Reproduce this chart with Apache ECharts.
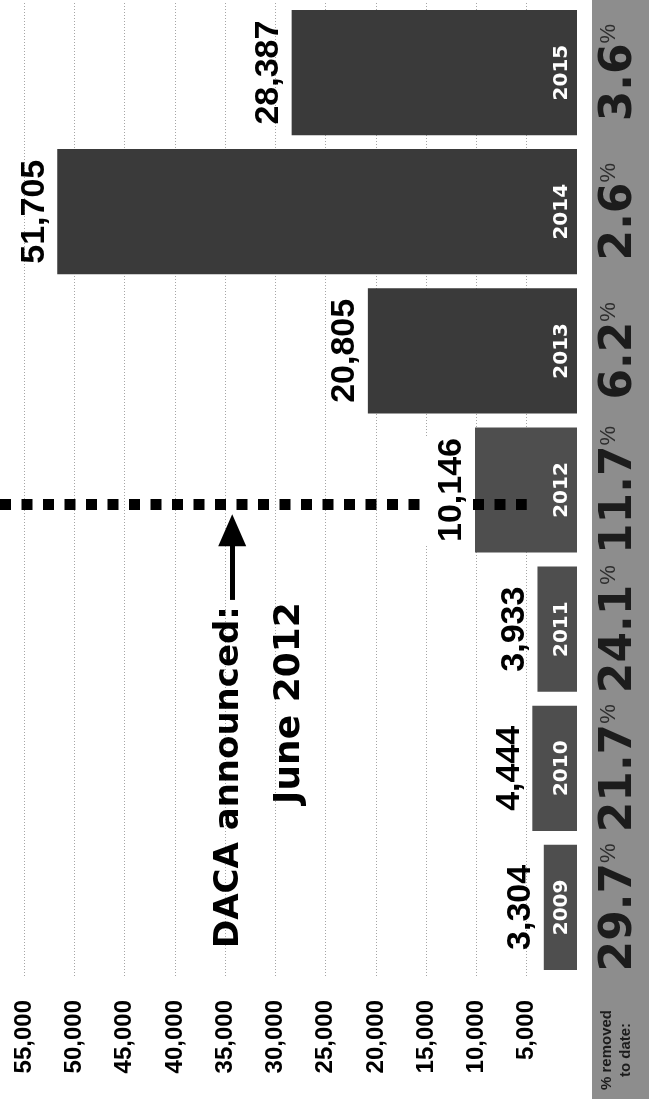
<!DOCTYPE html>
<html>
<head>
<meta charset="utf-8">
<script src="https://cdn.jsdelivr.net/npm/echarts@6/dist/echarts.min.js"></script>
<style>
  html, body { margin: 0; padding: 0; background: #fff; }
  #chart { width: 649px; height: 1099px; }
</style>
</head>
<body>
<div id="chart"></div>
<script>
// removals per year (chart is printed turned on its side)
var years = ['2009', '2010', '2011', '2012', '2013', '2014', '2015'];
var removals = [3304, 4444, 3933, 10146, 20805, 51705, 28387];
var pctRemoved = ['29.7', '21.7', '24.1', '11.7', '6.2', '2.6', '3.6'];

// DACA announcement, June 2012, in year-index units on a hidden linear axis
var dacaYear = '2012';
var dacaPos = 2.9;
var dacaLineValues = [57400, 5000];
// arrow pointing at the line
var arrowValue = 34300;
var arrowFrom = 2.21;
var arrowTo = 2.71;

var BOLD = '"Liberation Sans", Arial, sans-serif';
var HEAVY = '"DejaVu Sans", sans-serif';

var chart = echarts.init(document.getElementById('chart'));

// value labels sit on their own transparent bars so they can cover the dotted line
var valueLabelData = removals.map(function (v, i) {
  if (years[i] === dacaYear) {
    return { value: v, label: { backgroundColor: '#fff', padding: [12, 2, 0, 2] } };
  }
  return v;
});

chart.setOption({
  animation: false,
  backgroundColor: '#fff',
  grid: { left: 0, right: 72, top: 3, bottom: 122 },
  xAxis: {
    type: 'value',
    inverse: true,
    min: 0,
    max: 57400,   // page edge, past the last printed tick
    interval: 5000,
    axisLine: { show: false },
    axisTick: { show: false },
    splitLine: {
      show: true,
      showMinLine: false,
      showMaxLine: false,
      lineStyle: { color: '#a5a5a5', type: [1, 2], width: 1 }
    },
    axisLabel: {
      rotate: 90,
      margin: 23,
      showMinLabel: false,
      showMaxLabel: false,
      color: '#000',
      fontFamily: BOLD,
      fontWeight: 'bold',
      fontSize: 24,
      formatter: function (v) { return (v === 0 || v > 55000) ? '' : v.toLocaleString('en-US'); }
    }
  },
  yAxis: [
    {
      type: 'category',
      data: years,
      position: 'right',
      axisLine: { show: false },
      axisTick: { show: false },
      splitLine: { show: false },
      axisLabel: {
        rotate: 90,
        margin: 43,
        align: 'center',
        verticalAlign: 'middle',
        formatter: function (v, i) { return '{n|' + pctRemoved[i] + '}{p|%}'; },
        rich: {
          n: { fontFamily: HEAVY, fontWeight: 'bold', fontSize: 44, color: '#1c1c1c' },
          p: { fontFamily: BOLD, fontWeight: 'normal', fontSize: 22, color: '#2e2e2e', verticalAlign: 'top' }
        }
      }
    },
    {
      // same band layout as the year axis, but linear so annotations can sit between years
      type: 'value',
      show: false,
      min: -0.5,
      max: years.length - 0.5,
      splitLine: { show: false }
    }
  ],
  graphic: [
    {
      type: 'rect', left: 592, top: 0, z: -10,
      shape: { width: 57, height: 1099 },
      style: { fill: '#8d8d8d' }
    },
    {
      type: 'text', x: 616, y: 1050, rotation: Math.PI / 2, z: 100,
      style: {
        text: '% removed\nto date:', align: 'center', verticalAlign: 'middle',
        font: 'bold 15px "Liberation Sans", Arial, sans-serif', lineHeight: 19, fill: '#1c1c1c'
      }
    },
    {
      type: 'text', x: 229, y: 777, rotation: Math.PI / 2, z: 100,
      style: {
        text: 'DACA announced:', align: 'center', verticalAlign: 'middle',
        font: 'bold 34px "DejaVu Sans", sans-serif', fill: '#000'
      }
    },
    {
      type: 'text', x: 290, y: 703, rotation: Math.PI / 2, z: 100,
      style: {
        text: 'June 2012', align: 'center', verticalAlign: 'middle',
        font: 'bold 36px "DejaVu Sans", sans-serif', fill: '#000'
      }
    }
  ],
  series: [
    {
      type: 'bar',
      data: removals,
      barWidth: '90%',
      barGap: '-100%',
      z: 2,
      itemStyle: {
        color: function (p) { return p.dataIndex >= 4 ? '#3a3a3a' : '#4e4e4e'; }
      },
      label: {
        show: true,
        position: 'insideRight',
        distance: 5,
        rotate: 90,
        align: 'center',
        verticalAlign: 'bottom',
        color: '#fff',
        fontFamily: HEAVY,
        fontWeight: 'bold',
        fontSize: 20,
        formatter: function (p) { return years[p.dataIndex]; }
      }
    },
    {
      // carries the DACA annotation on the linear year axis
      type: 'scatter',
      yAxisIndex: 1,
      data: [],
      z: 3,
      markLine: {
        z: 3,
        silent: true,
        animation: false,
        label: { show: false },
        data: [
          [
            { coord: [dacaLineValues[0], dacaPos], symbol: 'none',
              lineStyle: { color: '#000', width: 11, type: [11, 10.5], cap: 'butt' } },
            { coord: [dacaLineValues[1], dacaPos], symbol: 'none' }
          ],
          [
            { coord: [arrowValue, arrowFrom], symbol: 'none',
              lineStyle: { color: '#000', width: 5, type: 'solid' } },
            { coord: [arrowValue, arrowTo], symbol: 'triangle', symbolSize: [28, 32] }
          ]
        ]
      }
    },
    {
      type: 'bar',
      data: valueLabelData,
      barWidth: '90%',
      barGap: '-100%',
      z: 8,
      itemStyle: { color: 'rgba(0,0,0,0)' },
      label: {
        show: true,
        position: 'left',
        distance: 6,
        rotate: 90,
        align: 'center',
        verticalAlign: 'bottom',
        color: '#000',
        fontFamily: BOLD,
        fontWeight: 'bold',
        fontSize: 34,
        formatter: function (p) { return p.value.toLocaleString('en-US'); }
      }
    }
  ]
});
</script>
</body>
</html>
